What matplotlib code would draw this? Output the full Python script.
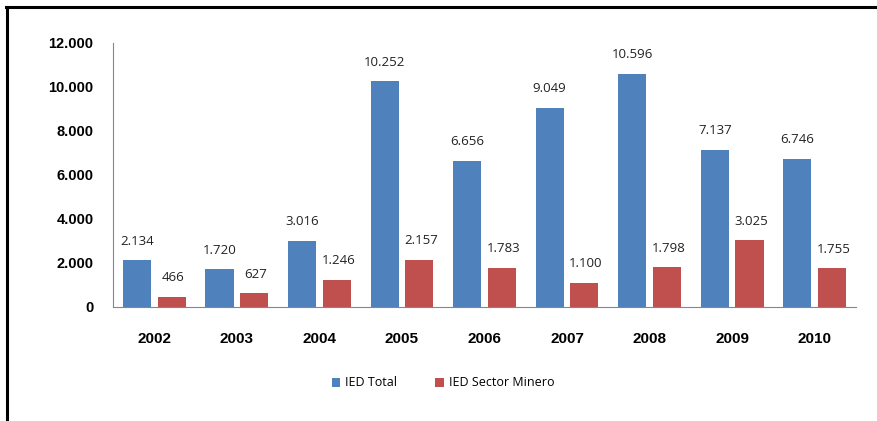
import matplotlib
matplotlib.use("Agg")
import matplotlib.pyplot as plt
import numpy as np
from matplotlib.lines import Line2D

years = ["2002", "2003", "2004", "2005", "2006", "2007", "2008", "2009", "2010"]
ied_total = [2134, 1720, 3016, 10252, 6656, 9049, 10596, 7137, 6746]
ied_minero = [466, 627, 1246, 2157, 1783, 1100, 1798, 3025, 1755]
yticks = [0, 2000, 4000, 6000, 8000, 10000, 12000]

def fmt(v):
    return f"{v:,}".replace(",", ".")

W, H = 878, 421
fig = plt.figure(figsize=(W/100, H/100), dpi=100)
ax = fig.add_axes([113/W, 1-307/H, (856-113)/W, (307-43)/H])

x = np.arange(len(years))
bw = 0.34
off = 0.21
blue = "#4F81BD"
red = "#C0504D"
ax.bar(x - off, ied_total, bw, color=blue, label="IED Total")
ax.bar(x + off, ied_minero, bw, color=red, label="IED Sector Minero")

for xi, v in zip(x, ied_total):
    ax.annotate(fmt(v), (xi - off, v), xytext=(0, 9), textcoords="offset points",
                ha="center", va="bottom", fontsize=9.5, family="Open Sans", color="#222222")
for xi, v in zip(x, ied_minero):
    ax.annotate(fmt(v), (xi + off + 0.02, v), xytext=(0, 9), textcoords="offset points",
                ha="center", va="bottom", fontsize=9.5, family="Open Sans", color="#222222")

ax.set_xlim(-0.5, len(years) - 0.5)
ax.set_ylim(0, 12000)
ax.set_yticks(yticks)
ax.set_yticklabels([fmt(t) for t in yticks], fontsize=10.5, fontweight="bold", family="Liberation Sans")
ax.set_xticks(x)
ax.set_xticklabels(years, fontsize=11, fontweight="bold", family="Liberation Sans")
ax.tick_params(axis="y", length=0, pad=14)
ax.tick_params(axis="x", length=0, pad=18)
for s in ["top", "right"]:
    ax.spines[s].set_visible(False)
ax.spines["left"].set_color("#868686")
ax.spines["bottom"].set_color("#868686")

leg = fig.legend(loc="center", bbox_to_anchor=(443/W, 1-383/H), ncol=2, frameon=False,
                 handlelength=0.7, handleheight=0.7, columnspacing=3.0,
                 handletextpad=0.4, prop={"family": "Open Sans", "size": 9})

# figure border (top and left)
fig.add_artist(Line2D([6/W, 1], [1-7/H, 1-7/H], color="black", lw=2.2, transform=fig.transFigure))
fig.add_artist(Line2D([7/W, 7/W], [0, 1-7/H], color="black", lw=2.2, transform=fig.transFigure))

fig.savefig("out.png", dpi=100)
